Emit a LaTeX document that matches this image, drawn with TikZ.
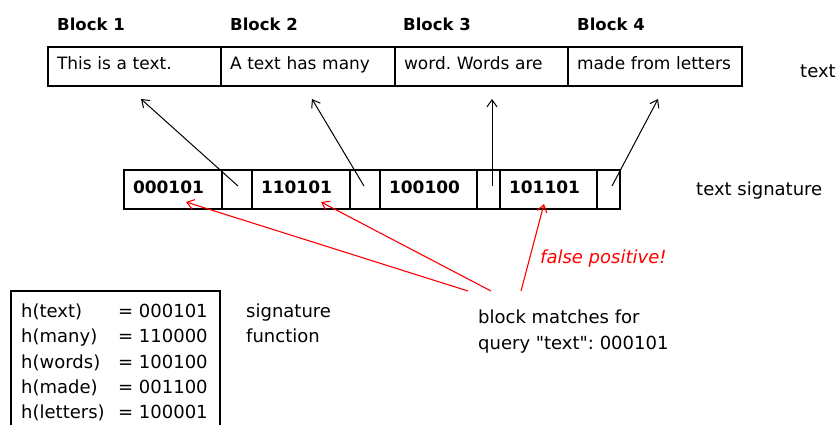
\documentclass[tikz,border=0pt]{standalone}
\usepackage{fontspec}
\setmainfont{DejaVu Sans}[Ligatures=TeXOff]
\usetikzlibrary{arrows.meta,calc}
\frenchspacing
\begin{document}
\begin{tikzpicture}[x=1pt,y=-1pt,
  txt/.style={font=\fontsize{18}{22}\selectfont, inner sep=0pt, anchor=base west},
  blocklabel/.style={font=\fontsize{16.5}{20}\selectfont\bfseries, inner sep=0pt, anchor=base west},
  blockcell/.style={draw, line width=2pt, minimum height=39pt, anchor=north west,
     font=\fontsize{17}{20}\selectfont, text height=13pt, text depth=7pt, inner xsep=9pt,
     align=left},
  sigcell/.style={draw, line width=2pt, minimum height=39pt, anchor=north west,
     font=\fontsize{17}{20}\selectfont\bfseries, text height=12pt, text depth=4pt, inner xsep=9pt,
     align=left},
  blk/.style={-{Straight Barb[length=7pt,width=10pt]}, line width=1pt, black},
  redarr/.style={-{Straight Barb[length=7pt,width=10pt]}, line width=1.1pt, red},
]
\useasboundingbox (0,0) rectangle (840,424);

% block labels
\node[blocklabel] (l1) at (57,30) {Block 1};
\node[blocklabel] (l2) at (230,30) {Block 2};
\node[blocklabel] (l3) at (403,30) {Block 3};
\node[blocklabel] (l4) at (577,30) {Block 4};

% text blocks
\node[blockcell, minimum width=173pt, text width=155pt] (b1) at (47,46) {This is a text.};
\node[blockcell, minimum width=174pt, text width=156pt] (b2) at (220,46) {A text has many};
\node[blockcell, minimum width=173pt, text width=155pt] (b3) at (394,46) {word. Words are};
\node[blockcell, minimum width=174pt, text width=156pt] (b4) at (567,46) {made from letters};
\node[txt] (tx) at (800,77) {text};

% signature row
\node[sigcell, minimum width=98pt, text width=80pt] (s1) at (123,169) {000101};
\node[sigcell, minimum width=30pt] (e1) at (221,169) {};
\node[sigcell, minimum width=98pt, text width=80pt] (s2) at (251,169) {110101};
\node[sigcell, minimum width=30pt] (e2) at (349,169) {};
\node[sigcell, minimum width=97pt, text width=79pt] (s3) at (379,169) {100100};
\node[sigcell, minimum width=23pt] (e3) at (476,169) {};
\node[sigcell, minimum width=97pt, text width=79pt] (s4) at (499,169) {101101};
\node[sigcell, minimum width=23pt] (e4) at (596,169) {};
\node[txt] (ts) at (696,195) {text signature};

% black arrows from signature cells to blocks
\draw[blk] ([shift={(1,-3.5)}]e1.center) -- ([shift={(6.5,12)}]b1.south);
\draw[blk] ([shift={(-1,-3.5)}]e2.center) -- ([shift={(4,12)}]b2.south);
\draw[blk] ([shift={(3.5,-3.5)}]e3.center) -- ([shift={(10.5,12)}]b3.south);
\draw[blk] ([shift={(3.5,-3.5)}]e4.center) -- ([shift={(3,12)}]b4.south);

% signature function box
\draw[line width=1.3pt] (11,430) -- (11,291) -- (220,291) -- (220,430);
\node[txt] (h1) at (21,317) {h(text)};
\node[txt] (h2) at (21,342) {h(many)};
\node[txt] (h3) at (21,368) {h(words)};
\node[txt] (h4) at (21,393) {h(made)};
\node[txt] (h5) at (21,418) {h(letters)};
\node[txt] (v1) at (118,317) {= 000101};
\node[txt] (v2) at (118,342) {= 110000};
\node[txt] (v3) at (118,368) {= 100100};
\node[txt] (v4) at (118,393) {= 001100};
\node[txt] (v5) at (118,418) {= 100001};
\node[txt] (sf1) at (246,317) {signature};
\node[txt] (sf2) at (246,342) {function};

% query matches
\node[txt] (q1) at (478,323) {block matches for};
\node[txt] (q2) at (478,349) {query "text": 000101};
\coordinate (r1) at (468,291);
\coordinate (r2) at (491,291);
\coordinate (r3) at (521,291);
\draw[redarr] (r1) -- ([shift={(13,-8)}]s1.south);
\draw[redarr] (r2) -- ([shift={(20,-8)}]s2.south);
\draw[redarr] (r3) -- ([shift={(-4.5,-6)}]s4.south);
\node[txt, text=red, font=\fontsize{18}{22}\selectfont\itshape] (fp) at (540,263) {false positive!};
\end{tikzpicture}
\end{document}
